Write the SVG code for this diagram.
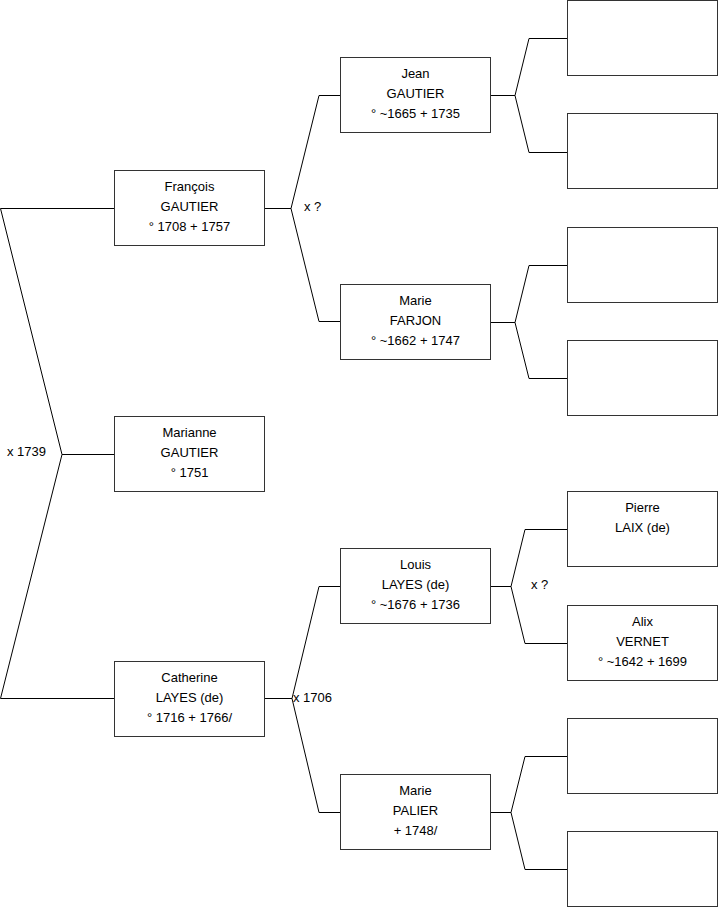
<svg xmlns="http://www.w3.org/2000/svg" width="719" height="908" viewBox="0 0 719 908">
<style>
.box{fill:#fff;stroke:#333;stroke-width:1}
.ln{fill:none;stroke:#000;stroke-width:1}
text{font-family:"Liberation Sans",Arial,sans-serif;font-size:13px;fill:#000}
.c{text-anchor:middle}
</style>
<rect width="719" height="908" fill="#fff"/>
<g id="connectors">
<polyline class="ln" points="114,208.5 0.5,208.5 62,454.5 0.5,698.5 114,698.5"/>
<line class="ln" x1="62" y1="454.5" x2="114" y2="454.5"/>
<polyline class="ln" points="265,208.5 291,208.5"/>
<polyline class="ln" points="340,95.5 319,95.5 291,208.5 319,321.5 340,321.5"/>
<polyline class="ln" points="265,698.5 292,698.5"/>
<polyline class="ln" points="340,586.5 319,586.5 292,698.5 319,812.5 340,812.5"/>
<polyline class="ln" points="491,95.5 515,95.5"/>
<polyline class="ln" points="567,38.5 529,38.5 515,95.5 529,152.5 567,152.5"/>
<polyline class="ln" points="491,322.5 515,322.5"/>
<polyline class="ln" points="567,265.5 529,265.5 515,322.5 529,378.5 567,378.5"/>
<polyline class="ln" points="491,586.5 511,586.5"/>
<polyline class="ln" points="567,529.5 525,529.5 511,586.5 525,643.5 567,643.5"/>
<polyline class="ln" points="491,812.5 511,812.5"/>
<polyline class="ln" points="567,756.5 525,756.5 511,812.5 525,869.5 567,869.5"/>
</g>
<g id="labels">
<text x="7" y="456">x 1739</text>
<text x="304" y="211">x ?</text>
<text x="293" y="702">x 1706</text>
<text x="531" y="589">x ?</text>
</g>
<g id="francois"><rect class="box" x="114.5" y="170.5" width="150" height="75"/>
<text class="c" x="189.5" y="191">François</text><text class="c" x="189.5" y="211">GAUTIER</text><text class="c" x="189.5" y="231">° 1708 + 1757</text></g>
<g id="marianne"><rect class="box" x="114.5" y="416.5" width="150" height="75"/>
<text class="c" x="189.5" y="437">Marianne</text><text class="c" x="189.5" y="457">GAUTIER</text><text class="c" x="189.5" y="477">° 1751</text></g>
<g id="catherine"><rect class="box" x="114.5" y="661.5" width="150" height="75"/>
<text class="c" x="189.5" y="682">Catherine</text><text class="c" x="189.5" y="702">LAYES (de)</text><text class="c" x="189.5" y="722">° 1716 + 1766/</text></g>
<g id="jean"><rect class="box" x="340.5" y="57.5" width="150" height="75"/>
<text class="c" x="415.5" y="78">Jean</text><text class="c" x="415.5" y="98">GAUTIER</text><text class="c" x="415.5" y="118">° ~1665 + 1735</text></g>
<g id="marie-farjon"><rect class="box" x="340.5" y="284.5" width="150" height="75"/>
<text class="c" x="415.5" y="305">Marie</text><text class="c" x="415.5" y="325">FARJON</text><text class="c" x="415.5" y="345">° ~1662 + 1747</text></g>
<g id="louis"><rect class="box" x="340.5" y="548.5" width="150" height="75"/>
<text class="c" x="415.5" y="569">Louis</text><text class="c" x="415.5" y="589">LAYES (de)</text><text class="c" x="415.5" y="609">° ~1676 + 1736</text></g>
<g id="marie-palier"><rect class="box" x="340.5" y="774.5" width="150" height="75"/>
<text class="c" x="415.5" y="795">Marie</text><text class="c" x="415.5" y="815">PALIER</text><text class="c" x="415.5" y="835">+ 1748/</text></g>
<g id="r1"><rect class="box" x="567.5" y="0.5" width="150" height="75"/></g>
<g id="r2"><rect class="box" x="567.5" y="113.5" width="150" height="75"/></g>
<g id="r3"><rect class="box" x="567.5" y="227.5" width="150" height="75"/></g>
<g id="r4"><rect class="box" x="567.5" y="340.5" width="150" height="75"/></g>
<g id="pierre"><rect class="box" x="567.5" y="491.5" width="150" height="75"/>
<text class="c" x="642.5" y="512">Pierre</text><text class="c" x="642.5" y="532">LAIX (de)</text></g>
<g id="alix"><rect class="box" x="567.5" y="605.5" width="150" height="75"/>
<text class="c" x="642.5" y="626">Alix</text><text class="c" x="642.5" y="646">VERNET</text><text class="c" x="642.5" y="666">° ~1642 + 1699</text></g>
<g id="r7"><rect class="box" x="567.5" y="718.5" width="150" height="75"/></g>
<g id="r8"><rect class="box" x="567.5" y="831.5" width="150" height="75"/></g>
</svg>
